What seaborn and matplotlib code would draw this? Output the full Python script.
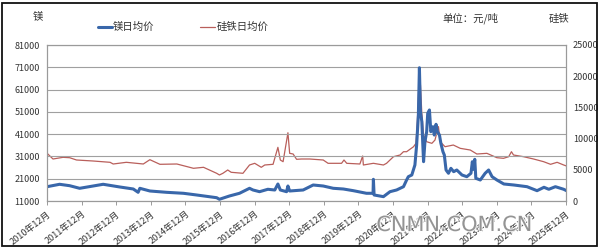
import matplotlib
matplotlib.use("Agg")
import matplotlib.pyplot as plt
import matplotlib.patheffects as pe
from matplotlib.patches import Rectangle
import pandas as pd
import seaborn as sns

# ---- data (decimal years, yuan/ton) ----
mg_t = [2010.92, 2011.28, 2011.57, 2011.86, 2012.25, 2012.54, 2013.02, 2013.41, 2013.55, 2013.60,
        2013.89, 2014.37, 2014.86, 2015.24, 2015.82, 2015.90, 2016.19, 2016.48, 2016.77, 2016.87,
        2017.06, 2017.30, 2017.50, 2017.59, 2017.66, 2017.84, 2017.88, 2017.93, 2018.32, 2018.61,
        2018.90, 2019.19, 2019.48, 2019.77, 2020.15, 2020.34, 2020.35, 2020.37, 2020.64, 2020.83,
        2021.02, 2021.22, 2021.31, 2021.36, 2021.46, 2021.55, 2021.60, 2021.65, 2021.68, 2021.71,
        2021.75, 2021.80, 2021.84, 2021.89, 2021.92, 2021.97, 2022.01, 2022.07, 2022.11, 2022.16,
        2022.20, 2022.26, 2022.30, 2022.36, 2022.40, 2022.45, 2022.52, 2022.59, 2022.67, 2022.76,
        2022.91, 2023.05, 2023.17, 2023.21, 2023.24, 2023.28, 2023.31, 2023.44, 2023.58, 2023.68,
        2023.78, 2023.92, 2024.12, 2024.41, 2024.79, 2025.08, 2025.28, 2025.42, 2025.61, 2025.85,
        2025.93]
mg_v = [17420, 18500, 17870, 16700, 17730, 18500, 17290, 16390, 14900, 16700,
        15490, 14900, 14460, 13700, 12480, 11770, 13250, 14460, 16700, 15940,
        15180, 16260, 15940, 18630, 15940, 15180, 17730, 15490, 15940, 18180,
        17730, 16700, 16390, 15630, 14460, 14460, 20740, 13700, 12950, 15180,
        15940, 17420, 20420, 21910, 22670, 27160, 36130, 49600, 70800, 51070,
        46590, 28640, 37610, 42100, 50350, 51840, 42100, 44340, 40600, 45420,
        42100, 40600, 36890, 33130, 31640, 24910, 23440, 25670, 24160, 24910,
        22670, 21910, 23440, 28640, 25220, 29720, 21200, 20420, 23440, 24910,
        21910, 20420, 18630, 18180, 17420, 15630, 17150, 16260, 17420, 16260,
        15630]

fe_t = [2010.92, 2011.09, 2011.38, 2011.57, 2011.77, 2012.25, 2012.74, 2012.83, 2013.21, 2013.70,
        2013.89, 2014.18, 2014.67, 2015.15, 2015.44, 2015.82, 2015.90, 2016.00, 2016.14, 2016.24,
        2016.58, 2016.77, 2016.92, 2017.11, 2017.21, 2017.45, 2017.59, 2017.66, 2017.74, 2017.88,
        2017.93, 2018.03, 2018.13, 2018.27, 2018.51, 2018.90, 2019.04, 2019.43, 2019.50, 2019.58,
        2019.96, 2020.04, 2020.06, 2020.35, 2020.64, 2020.73, 2020.93, 2021.12, 2021.22, 2021.31,
        2021.51, 2021.58, 2021.62, 2021.67, 2021.71, 2021.75, 2021.80, 2021.89, 2022.04, 2022.13,
        2022.23, 2022.28, 2022.42, 2022.66, 2022.86, 2023.15, 2023.34, 2023.63, 2023.92, 2024.11,
        2024.26, 2024.34, 2024.40, 2024.69, 2024.98, 2025.27, 2025.47, 2025.66, 2025.85, 2025.93]
fe_v = [7640, 6730, 7000, 6940, 6570, 6410, 6200, 5930, 6200, 5930,
        6620, 5880, 5930, 5240, 5400, 4440, 4170, 4440, 4970, 4600,
        4440, 5770, 6040, 5400, 5770, 5880, 8600, 6570, 6300, 10940,
        7640, 7530, 6680, 6730, 6730, 6570, 6040, 6040, 6570, 6040,
        5930, 7210, 5770, 6040, 5770, 6040, 7100, 7370, 7900, 7900,
        8700, 9240, 12710, 19500, 18600, 14000, 10580, 9500, 9240, 9770,
        11920, 9500, 8700, 8970, 8440, 8170, 7530, 7640, 6940, 6840,
        7100, 7900, 7370, 7100, 6730, 6300, 5880, 6200, 5770, 5610]

tick_years = list(range(2010, 2026))
tick_labels = [f"{y}年12月" for y in tick_years]
left_ticks = [11000, 21000, 31000, 41000, 51000, 61000, 71000, 81000]
right_ticks = [0, 5000, 10000, 15000, 20000, 25000]

mg = pd.DataFrame({"t": mg_t, "v": mg_v})
fe = pd.DataFrame({"t": fe_t, "v": fe_v})

sns.set_theme(style="white")
plt.rcParams["font.family"] = ["Noto Sans CJK SC", "DejaVu Sans"]

W, H = 600, 249
fig = plt.figure(figsize=(W / 100, H / 100), dpi=100)
fig.patch.set_facecolor("white")
ax = fig.add_axes([47 / W, 1 - 201 / H, (566 - 47) / W, 156 / H])
ax2 = ax.twinx()
ax.set_zorder(ax2.get_zorder() + 1)
ax.patch.set_visible(False)

BLUE = "#3967AA"
RED = "#B95F5B"
TXT = "#333333"
sns.lineplot(data=fe, x="t", y="v", ax=ax2, color=RED, linewidth=0.9, legend=False)
sns.lineplot(data=mg, x="t", y="v", ax=ax, color=BLUE, linewidth=2.2, legend=False)

x0 = tick_years[0] + 11 / 12
x1 = tick_years[-1] + 11 / 12
ax.set_xlim(x0, x1)
ax.set_ylim(11000, 81000)
ax2.set_ylim(0, 25000)
ax.set_yticks(left_ticks)
ax2.set_yticks(right_ticks)
ax.set_yticklabels([str(v) for v in left_ticks])
ax2.set_yticklabels([str(v) for v in right_ticks])
ax.set_xticks([y + 11 / 12 for y in tick_years])
ax.set_xticklabels(tick_labels, rotation=38, ha="right", rotation_mode="anchor")
for a in (ax, ax2):
    a.set_xlabel("")
    a.set_ylabel("")
    for s in a.spines.values():
        s.set_color("#9a9a9a")
        s.set_linewidth(0.8)
ax.grid(axis="y", color="#a0a0a0", linewidth=0.8)
ax.grid(axis="x", visible=False)
ax2.grid(False)
ax.tick_params(axis="y", length=0, pad=5, labelsize=6.5, colors=TXT)
ax2.tick_params(axis="y", length=0, pad=5, labelsize=6.5, colors=TXT)
ax.tick_params(axis="x", length=3, width=0.7, color="#9a9a9a", direction="out",
               pad=3, labelsize=6.5, colors=TXT, bottom=True)


def fx(px):
    return px / W


def fy(py):
    return 1 - py / H


fig.text(fx(38), fy(17), "镁", fontsize=7.5, ha="center", va="center", color=TXT)
fig.text(fx(559), fy(18), "硅铁", fontsize=7.5, ha="center", va="center", color=TXT)
fig.text(fx(470), fy(18.5), "单位：元/吨", fontsize=7.5, ha="center", va="center", color=TXT)
fig.add_artist(plt.Line2D([fx(98), fx(112)], [fy(27), fy(27)], color=BLUE, linewidth=2.2))
fig.text(fx(113), fy(27), "镁日均价", fontsize=7.5, ha="left", va="center", color=TXT)
fig.add_artist(plt.Line2D([fx(200), fx(215)], [fy(27), fy(27)], color=RED, linewidth=0.9))
fig.text(fx(217), fy(27), "硅铁日均价", fontsize=7.5, ha="left", va="center", color=TXT)

# watermark
fig.text(fx(454), fy(225), "CNMN.COM.CN", fontsize=15, family="DejaVu Sans",
         ha="center", va="center", color="#8a8a8a", alpha=0.9,
         path_effects=[pe.withStroke(linewidth=1.5, foreground="white")])

# outer black frame
fig.add_artist(Rectangle((2 / W, 3 / H), (597 - 2) / W, (246 - 3) / H, transform=fig.transFigure,
                         fill=False, edgecolor="#111111", linewidth=1.3))

fig.savefig("out.png", dpi=100)
